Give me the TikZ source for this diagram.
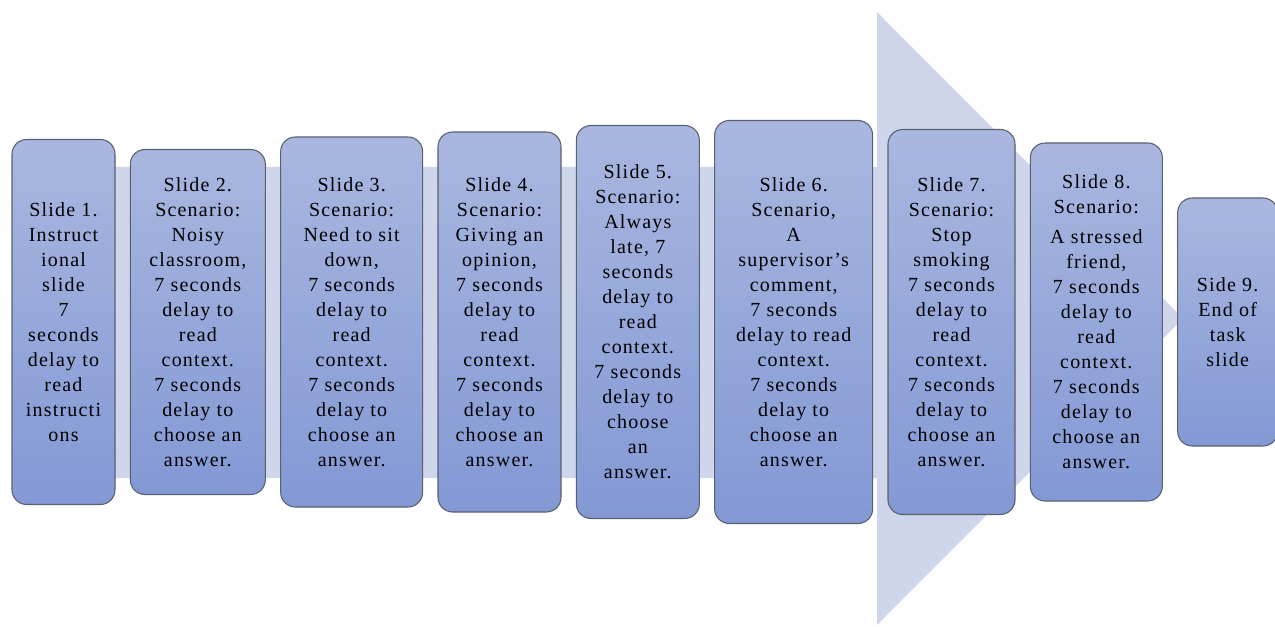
\documentclass[tikz,border=0pt]{standalone}
\usepackage{fontspec}
\setmainfont{Liberation Serif}[LetterSpace=6]
\usetikzlibrary{positioning}

\definecolor{arrowfill}{HTML}{CFD5EA}
\definecolor{slidetop}{HTML}{A9B7E0}
\definecolor{slidebot}{HTML}{8399D5}
\definecolor{slideline}{HTML}{5B6070}

\tikzset{
  slide/.style={draw=slideline, line width=0.8pt, rounded corners=11pt,
    top color=slidetop, bottom color=slidebot, align=center, inner sep=2pt,
    font=\fontsize{15}{18.75}\selectfont},
}

\begin{document}
\begin{tikzpicture}[x=0.75pt, y=-0.75pt, node distance=10.7pt]
            \useasboundingbox (0,0) rectangle (1275,627);
            \fill[arrowfill] (20,167) -- (877,167) -- (877,12) -- (1183,318.5) -- (877,625) -- (877,478) -- (20,478) -- cycle;

            \node[slide, minimum width=77.25pt, minimum height=273.75pt] (s1) at (63.5,322) {Slide 1.\\Instruct\\ional\\slide\\7\\seconds\\delay to\\read\\instructi\\ons};
            \node[slide, minimum width=101.25pt, minimum height=258.75pt, right=of s1] (s2) {Slide 2.\\Scenario:\\Noisy\\classroom,\\7 seconds\\delay to\\read\\context.\\7 seconds\\delay to\\choose an\\answer.};
            \node[slide, minimum width=106.5pt, minimum height=277.5pt, right=of s2] (s3) {Slide 3.\\Scenario:\\Need to sit\\down,\\7 seconds\\delay to\\read\\context.\\7 seconds\\delay to\\choose an\\answer.};
            \node[slide, minimum width=92.25pt, minimum height=285pt, right=of s3] (s4) {Slide 4.\\Scenario:\\Giving an\\opinion,\\7 seconds\\delay to\\read\\context.\\7 seconds\\delay to\\choose an\\answer.};
            \node[slide, minimum width=92.25pt, minimum height=294.75pt, right=of s4] (s5) {Slide 5.\\Scenario:\\Always\\late, 7\\seconds\\delay to\\read\\context.\\7 seconds\\delay to\\choose\\an\\answer.};
            \node[slide, minimum width=118.5pt, minimum height=302.25pt, right=of s5] (s6) {Slide 6.\\Scenario,\\A\\supervisor's\\comment,\\7 seconds\\delay to read\\context.\\7 seconds\\delay to\\choose an\\answer.};
            \node[slide, minimum width=95.25pt, minimum height=288.75pt, right=of s6] (s7) {Slide 7.\\Scenario:\\Stop\\smoking\\7 seconds\\delay to\\read\\context.\\7 seconds\\delay to\\choose an\\answer.};
            \node[slide, minimum width=99pt, minimum height=268.5pt, right=of s7] (s8) {Slide 8.\\Scenario:\\[4pt]A stressed\\friend,\\7 seconds\\delay to\\read\\context.\\7 seconds\\delay to\\choose an\\answer.};
            \node[slide, minimum width=75pt, minimum height=186pt, right=of s8] (s9) {Side 9.\\End of\\task\\slide};
        \end{tikzpicture}
\end{document}
